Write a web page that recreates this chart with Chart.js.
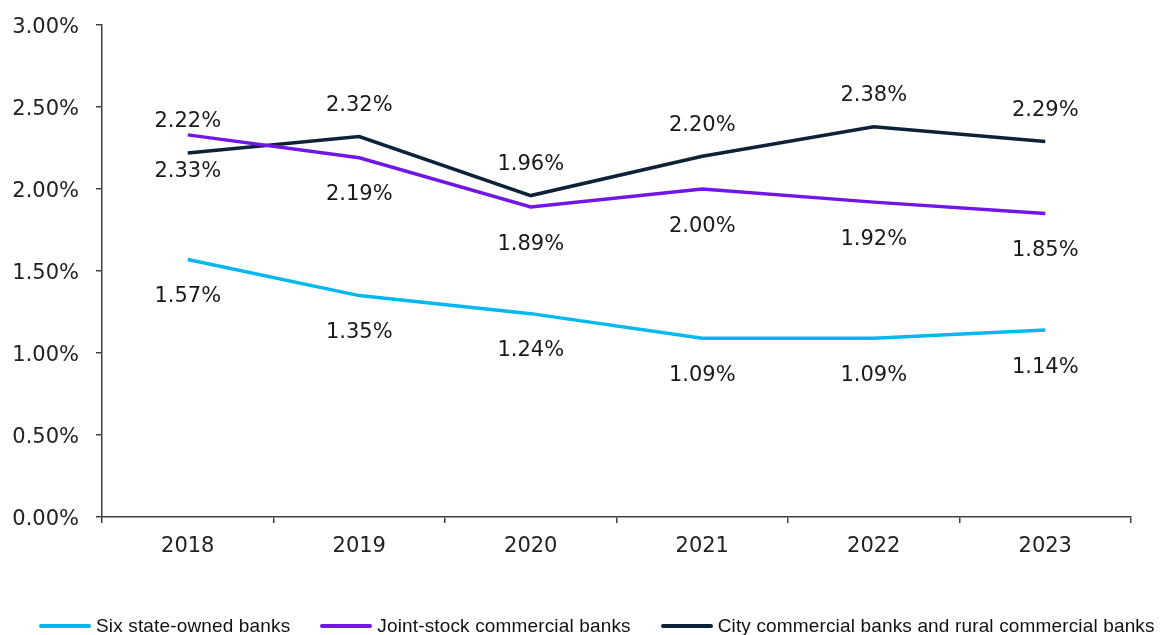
<!DOCTYPE html>
<html>
<head>
<meta charset="utf-8">
<script src="https://cdn.jsdelivr.net/npm/chart.js@4.4.1/dist/chart.umd.min.js"></script>
<style>
  html, body { margin: 0; padding: 0; background: #fff; overflow: hidden; }
  #wrap { position: relative; width: 1161px; height: 635px; }
  #legend {
    position: absolute; left: 39px; right: 0; top: 615px; height: 22px;
    display: flex; align-items: center; white-space: nowrap; overflow: hidden;
    font-family: "Liberation Sans", Arial, sans-serif; font-size: 19px; letter-spacing: 0.15px; color: #111;
  }
  .item { display: flex; align-items: center; margin-right: 30px; flex: none; }
  .swatch { width: 52px; height: 4px; border-radius: 2px; margin-right: 5px; }
</style>
</head>
<body>
<div id="wrap">
  <canvas id="c" width="1161" height="635"></canvas>
  <div id="legend"></div>
</div>
<script>
// Non-performing loan ratio by bank type, 2018-2023 (%)
const years = ['2018', '2019', '2020', '2021', '2022', '2023'];
const stateOwned = [1.57, 1.35, 1.24, 1.09, 1.09, 1.14];
const jointStock = [2.33, 2.19, 1.89, 2.00, 1.92, 1.85];
const cityRural  = [2.22, 2.32, 1.96, 2.20, 2.38, 2.29];
const seriesNames = [
  'Six state-owned banks',
  'Joint-stock commercial banks',
  'City commercial banks and rural commercial banks'
];
const yTicks = [0, 0.5, 1.0, 1.5, 2.0, 2.5, 3.0];

const colors = ['#00B8F0', '#7216E8', '#0D2238'];
// which side of each point its value is written on
const labelSide = ['below', 'below', 'above'];

const tickFont = { family: '"DejaVu Sans", sans-serif', size: 21 };
const axisColor = '#404040';

// writes each point's value above or below it
const valueLabels = {
  id: 'valueLabels',
  afterDatasetsDraw(chart) {
    const ctx = chart.ctx;
    ctx.save();
    ctx.font = '21px "DejaVu Sans", sans-serif';
    ctx.fillStyle = '#1a1a1a';
    ctx.textAlign = 'center';
    ctx.textBaseline = 'alphabetic';
    chart.data.datasets.forEach((ds, i) => {
      const meta = chart.getDatasetMeta(i);
      meta.data.forEach((pt, j) => {
        const dy = labelSide[i] === 'above' ? -25.5 : 42.5;
        ctx.fillText(ds.data[j].toFixed(2) + '%', pt.x, pt.y + dy);
      });
    });
    ctx.restore();
  }
};

const chart = new Chart(document.getElementById('c'), {
  type: 'line',
  data: {
    labels: years,
    datasets: [stateOwned, jointStock, cityRural].map((vals, i) => ({
      label: seriesNames[i],
      data: vals,
      borderColor: colors[i],
      backgroundColor: colors[i],
      borderWidth: 3.5,
      pointRadius: 0,
      tension: 0,
      fill: false
    }))
  },
  options: {
    responsive: false,
    animation: false,
    devicePixelRatio: 1,
    layout: { padding: { top: 25, right: 30, bottom: 0, left: 0 } },
    plugins: { legend: { display: false }, tooltip: { enabled: false } },
    scales: {
      x: {
        offset: true,
        grid: { offset: true, drawOnChartArea: false, drawTicks: true, tickLength: 6, color: axisColor, lineWidth: 1.5 },
        border: { display: true, color: axisColor, width: 1.5 },
        ticks: { font: tickFont, color: '#222', padding: 11 },
        afterFit(scale) { scale.height = 118; }
      },
      y: {
        min: 0,
        max: 3,
        afterBuildTicks(scale) { scale.ticks = yTicks.map(v => ({ value: v })); },
        grid: { drawOnChartArea: false, drawTicks: true, tickLength: 6, color: axisColor, lineWidth: 1.5 },
        border: { display: true, color: axisColor, width: 1.5 },
        ticks: { font: tickFont, color: '#222', padding: 17, labelOffset: 2.5, callback: v => v.toFixed(2) + '%' },
        afterFit(scale) {
          scale.width = 102;
          // the outer layout padding already leaves room for the end labels
          scale.paddingTop = 0;
          scale.paddingBottom = 0;
        }
      }
    }
  },
  plugins: [valueLabels]
});

// legend row built from the datasets
const legend = document.getElementById('legend');
chart.data.datasets.forEach(ds => {
  const item = document.createElement('div');
  item.className = 'item';
  const sw = document.createElement('span');
  sw.className = 'swatch';
  sw.style.background = ds.borderColor;
  const txt = document.createElement('span');
  txt.textContent = ds.label;
  item.appendChild(sw);
  item.appendChild(txt);
  legend.appendChild(item);
});
</script>
</body>
</html>
